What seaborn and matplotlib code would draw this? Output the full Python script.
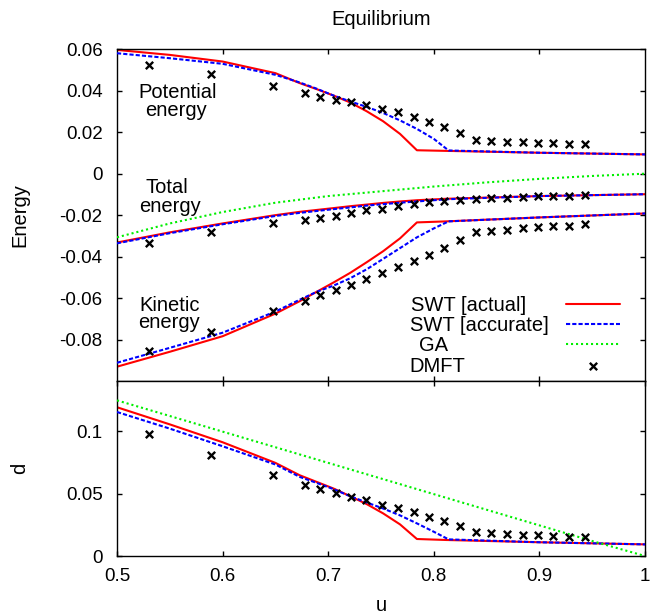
import matplotlib
matplotlib.use("Agg")
import matplotlib.pyplot as plt
import seaborn as sns

# ---------------- data ----------------
# DMFT points
u_dmft = [0.530, 0.589, 0.648, 0.678, 0.692, 0.707, 0.722, 0.736, 0.751, 0.766, 0.781,
          0.795, 0.810, 0.825, 0.840, 0.854, 0.869, 0.884, 0.899, 0.913, 0.928, 0.943]
pot_dmft = [0.0523, 0.0480, 0.0422, 0.0389, 0.0371, 0.0356, 0.0344, 0.0332, 0.0312, 0.0296, 0.0275,
            0.0250, 0.0226, 0.0198, 0.0161, 0.0157, 0.0154, 0.0152, 0.0150, 0.0147, 0.0144, 0.0141]
tot_dmft = [-0.0333, -0.0283, -0.0240, -0.0223, -0.0216, -0.0202, -0.0189, -0.0177, -0.0168, -0.0155, -0.0148,
            -0.0138, -0.0132, -0.0127, -0.0120, -0.0119, -0.0115, -0.0112, -0.0109, -0.0107, -0.0106, -0.0104]
kin_dmft = [-0.0855, -0.0763, -0.0664, -0.0612, -0.0584, -0.0560, -0.0536, -0.0507, -0.0480, -0.0451, -0.0422,
            -0.0390, -0.0360, -0.0321, -0.0280, -0.0275, -0.0271, -0.0264, -0.0259, -0.0254, -0.0250, -0.0243]
d_dmft = [0.0979, 0.0811, 0.0649, 0.0571, 0.0533, 0.0503, 0.0473, 0.0447, 0.0412, 0.0381, 0.0349,
          0.0314, 0.0278, 0.0240, 0.0189, 0.0181, 0.0176, 0.0170, 0.0165, 0.0160, 0.0154, 0.0152]

# SWT [actual]
u_act = [0.50, 0.55, 0.60, 0.65, 0.673, 0.689, 0.705, 0.7206, 0.7365, 0.752, 0.768, 0.784, 0.812, 0.90, 1.00]
pot_act = [0.0597, 0.0573, 0.0541, 0.0485, 0.0437, 0.0408, 0.0377, 0.0344, 0.0301, 0.0253, 0.0192, 0.0113, 0.0110, 0.0101, 0.0093]
tot_act = [-0.0332, -0.0283, -0.0240, -0.0200, -0.0184, -0.0175, -0.0166, -0.0157, -0.0149, -0.0141, -0.0134, -0.0128, -0.0121, -0.0108, -0.0099]
kin_act = [-0.0931, -0.0859, -0.0784, -0.0675, -0.0615, -0.0570, -0.0525, -0.0479, -0.0427, -0.0374, -0.0312, -0.0235, -0.0230, -0.0211, -0.0192]
d_act = [0.1190, 0.1053, 0.0910, 0.0745, 0.0646, 0.0593, 0.0540, 0.0479, 0.0415, 0.0341, 0.0253, 0.0136, 0.0128, 0.0110, 0.0093]

# SWT [accurate]
u_acc = [0.50, 0.55, 0.60, 0.65, 0.673, 0.689, 0.705, 0.7206, 0.7365, 0.752, 0.768, 0.784, 0.800, 0.814, 0.90, 1.00]
pot_acc = [0.0581, 0.0557, 0.0530, 0.0477, 0.0440, 0.0410, 0.0377, 0.0349, 0.0322, 0.0293, 0.0257, 0.0216, 0.0168, 0.0112, 0.0101, 0.0093]
tot_acc = [-0.0336, -0.0287, -0.0244, -0.0204, -0.0189, -0.0180, -0.0171, -0.0163, -0.0154, -0.0147, -0.0140, -0.0134, -0.0128, -0.0123, -0.0108, -0.0099]
kin_acc = [-0.0912, -0.0840, -0.0767, -0.0665, -0.0608, -0.0570, -0.0540, -0.0505, -0.0461, -0.0411, -0.0359, -0.0307, -0.0264, -0.0230, -0.0211, -0.0192]
d_acc = [0.1152, 0.1019, 0.0878, 0.0732, 0.0633, 0.0585, 0.0535, 0.0479, 0.0428, 0.0380, 0.0325, 0.0261, 0.0194, 0.0133, 0.0110, 0.0093]

# GA
u_ga = [0.50, 0.55, 0.60, 0.65, 0.70, 0.75, 0.80, 0.85, 0.90, 0.95, 1.00]
tot_ga = [-0.0307, -0.0240, -0.0185, -0.0140, -0.0108, -0.0085, -0.0062, -0.0042, -0.0025, -0.0011, 0.0]
d_ga = [0.1245, 0.1120, 0.0995, 0.0870, 0.0745, 0.0620, 0.0495, 0.0370, 0.0245, 0.0120, 0.0]

# legend labels
series_labels = ["SWT [actual]", "SWT [accurate]", "GA", "DMFT"]

# ticks
top_yticks = [-0.08, -0.06, -0.04, -0.02, 0.0, 0.02, 0.04, 0.06]
top_yticklabels = ["-0.08", "-0.06", "-0.04", "-0.02", "0", "0.02", "0.04", "0.06"]
bot_yticks = [0.0, 0.05, 0.1]
bot_yticklabels = ["0", "0.05", "0.1"]
xticks = [0.5, 0.6, 0.7, 0.8, 0.9, 1.0]
xticklabels = ["0.5", "0.6", "0.7", "0.8", "0.9", "1"]

# ---------------- style ----------------
sns.set_style("ticks")
plt.rcParams["font.family"] = ["Liberation Sans", "DejaVu Sans"]
plt.rcParams.update({
    "axes.edgecolor": "black", "xtick.color": "black", "ytick.color": "black",
    "text.color": "black", "axes.labelcolor": "black", "axes.linewidth": 1.0,
})

RED, BLUE, GREEN = "#ff0000", "#0000ff", "#00ee00"
LW = 1.5
DASH = (0, (2.0, 1.0))
DOT = (0, (1.0, 1.4))
FS = 14.5
TFS = 13.5
MS = 28

fig = plt.figure(figsize=(6.52, 6.16), dpi=100)
ax1 = fig.add_axes([0.17945, 0.38149, 0.80982, 0.53848])
ax2 = fig.add_axes([0.17945, 0.09740, 0.80982, 0.28409])

# ---------------- top panel ----------------
for i, ys in enumerate([pot_act, tot_act, kin_act]):
    sns.lineplot(x=u_act, y=ys, ax=ax1, color=RED, lw=LW, zorder=2,
                 label=series_labels[0] if i == 0 else None, legend=False)
for i, ys in enumerate([pot_acc, tot_acc, kin_acc]):
    sns.lineplot(x=u_acc, y=ys, ax=ax1, color=BLUE, lw=LW, linestyle=DASH, zorder=3,
                 label=series_labels[1] if i == 0 else None, legend=False)
sns.lineplot(x=u_ga, y=tot_ga, ax=ax1, color=GREEN, lw=LW, linestyle=DOT, zorder=3,
             label=series_labels[2], legend=False)
for i, ys in enumerate([pot_dmft, tot_dmft, kin_dmft]):
    sns.scatterplot(x=u_dmft, y=ys, ax=ax1, marker="x", color="black", s=MS, linewidth=1.7,
                    zorder=4, label=series_labels[3] if i == 0 else None, legend=False)

# ---------------- bottom panel ----------------
sns.lineplot(x=u_act, y=d_act, ax=ax2, color=RED, lw=LW, zorder=2, legend=False)
sns.lineplot(x=u_acc, y=d_acc, ax=ax2, color=BLUE, lw=LW, linestyle=DASH, zorder=3, legend=False)
sns.lineplot(x=u_ga, y=d_ga, ax=ax2, color=GREEN, lw=LW, linestyle=DOT, zorder=3, legend=False)
sns.scatterplot(x=u_dmft, y=d_dmft, ax=ax2, marker="x", color="black", s=MS, linewidth=1.7,
                zorder=4, legend=False)

# ---------------- axes ----------------
for ax in (ax1, ax2):
    ax.set_xlim(0.5, 1.0)
    ax.tick_params(direction="in", length=3.3, width=1.0, top=True, right=True,
                   labelsize=TFS)
    ax.tick_params(axis="x", pad=8.4)
    ax.tick_params(axis="y", pad=10.4)
    for s in ax.spines.values():
        s.set_visible(True)
        s.set_linewidth(1.0)
        s.set_color("black")

ax1.set_ylim(-0.1, 0.06)
ax1.set_yticks(top_yticks)
ax1.set_yticklabels(top_yticklabels)
ax1.set_xticks(xticks[1:-1])
ax1.tick_params(axis="x", labelbottom=False)
ax1.set_xlabel("")

ax2.set_ylim(0.0, 0.14)
ax2.set_yticks(bot_yticks)
ax2.set_yticklabels(bot_yticklabels)
ax2.set_xticks(xticks)
ax2.set_xticklabels(xticklabels)

ax1.set_ylabel("Energy", fontsize=FS, va="center")
ax1.yaxis.set_label_coords(-0.1837, 0.5)
ax2.set_ylabel("d", fontsize=FS, va="center")
ax2.yaxis.set_label_coords(-0.1837, 0.5)
ax2.set_xlabel("u", fontsize=FS, va="baseline")
ax2.xaxis.set_label_coords(0.5, -0.314)

fig.text(0.5844, 1 - 25 / 616, "Equilibrium", ha="center", va="baseline", fontsize=FS)

# in-plot annotations
for txt, x, y in [("Potential", 0.1155, 0.8523), ("energy", 0.1117, 0.7989),
                  ("Total", 0.0947, 0.5653), ("energy", 0.1004, 0.5080),
                  ("Kinetic", 0.1004, 0.2110), ("energy", 0.0985, 0.1583)]:
    ax1.text(x, y, txt, transform=ax1.transAxes, ha="center", va="baseline", fontsize=FS)

# legend: sample glyphs from the legend, label texts left-justified as in gnuplot key
h, l = ax1.get_legend_handles_labels()
hd = dict(zip(l, h))
ax1.legend([hd[k] for k in series_labels], [""] * 4, loc="upper right",
           bbox_to_anchor=(0.9527, 0.2568), frameon=False, markerfirst=False,
           borderpad=0, borderaxespad=0, handlelength=2.7, handletextpad=0.0,
           labelspacing=0.05, fontsize=FS, scatterpoints=1)
for txt, x, y in zip(series_labels, [0.5568, 0.5549, 0.572, 0.553],
                     [0.2119, 0.1516, 0.0913, 0.0280]):
    ax1.text(x, y, txt, transform=ax1.transAxes, ha="left", va="baseline", fontsize=FS)

fig.savefig("out.png", dpi=100)
